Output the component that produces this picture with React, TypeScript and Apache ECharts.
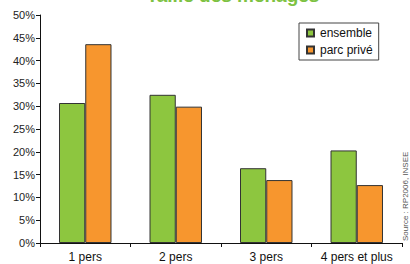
import React, { useEffect, useRef } from "react";
import * as echarts from "echarts";

const categories = ["1 pers", "2 pers", "3 pers", "4 pers et plus"];
const ensemble = [30.7, 32.5, 16.4, 20.3];
const parcPrive = [43.6, 29.9, 13.8, 12.7];
const seriesNames = ["ensemble", "parc privé"];
const title = "Taille des ménages";
const source = "Source : RP2006, INSEE";

export default function App() {
  const ref = useRef<HTMLDivElement>(null);
  useEffect(() => {
    if (!ref.current) return;
    const chart = echarts.init(ref.current, null, { renderer: "svg" });
    const font = "Arial, 'Liberation Sans', sans-serif";
    chart.setOption({
      animation: false,
      backgroundColor: "#fff",
      title: {
        text: title,
        left: 228,
        textAlign: "center",
        top: -19,
        textStyle: { color: "#7dc242", fontSize: 19, fontWeight: "bold", fontFamily: font },
      },
      legend: {
        orient: "vertical",
        left: 299,
        top: 23,
        padding: [4, 6, 4, 7],
        itemGap: 5,
        itemWidth: 7,
        itemHeight: 7,
        icon: "rect",
        backgroundColor: "#fff",
        borderColor: "#444",
        borderWidth: 1,
        borderRadius: 0,
        textStyle: { fontSize: 12, color: "#111", fontFamily: font, padding: [0, 0, 0, 1] },
        data: seriesNames,
      },
      grid: { left: 40, right: 8, top: 15, bottom: 21, containLabel: false },
      xAxis: {
        type: "category",
        data: categories,
        axisLine: { lineStyle: { color: "#111", width: 1 } },
        axisTick: { show: true, alignWithLabel: false, length: 4, lineStyle: { color: "#111" }, inside: false },
        axisLabel: { interval: 0, fontSize: 12, color: "#111", fontFamily: font, margin: 8 },
      },
      yAxis: {
        type: "value",
        min: 0,
        max: 50,
        interval: 5,
        axisLine: { show: true, lineStyle: { color: "#111", width: 1 } },
        axisTick: { show: true, length: 4, lineStyle: { color: "#111" } },
        axisLabel: { formatter: "{value}%", fontSize: 11, color: "#222", fontFamily: font, margin: 5 },
        splitLine: { lineStyle: { color: "#333", width: 1, shadowColor: "rgba(0,0,0,0.35)", shadowOffsetY: 1, shadowBlur: 0 } },
      },
      series: [
        {
          name: seriesNames[0],
          type: "bar",
          data: ensemble,
          barGap: "0%",
          barCategoryGap: "42%",
          itemStyle: { color: "#8dc63f", borderColor: "#333", borderWidth: 1 },
        },
        {
          name: seriesNames[1],
          type: "bar",
          data: parcPrive,
          itemStyle: { color: "#f7962e", borderColor: "#333", borderWidth: 1 },
        },
      ],
      graphic: [
        {
          type: "text",
          x: 405,
          y: 241,
          rotation: Math.PI / 2,
          style: { text: source, fontSize: 8, fill: "#555", fontFamily: font, align: "left", verticalAlign: "middle" },
        },
      ],
    });
    return () => chart.dispose();
  }, []);
  return <div ref={ref} style={{ width: 410, height: 264, position: "absolute", left: 0, top: 0 }} />;
}
